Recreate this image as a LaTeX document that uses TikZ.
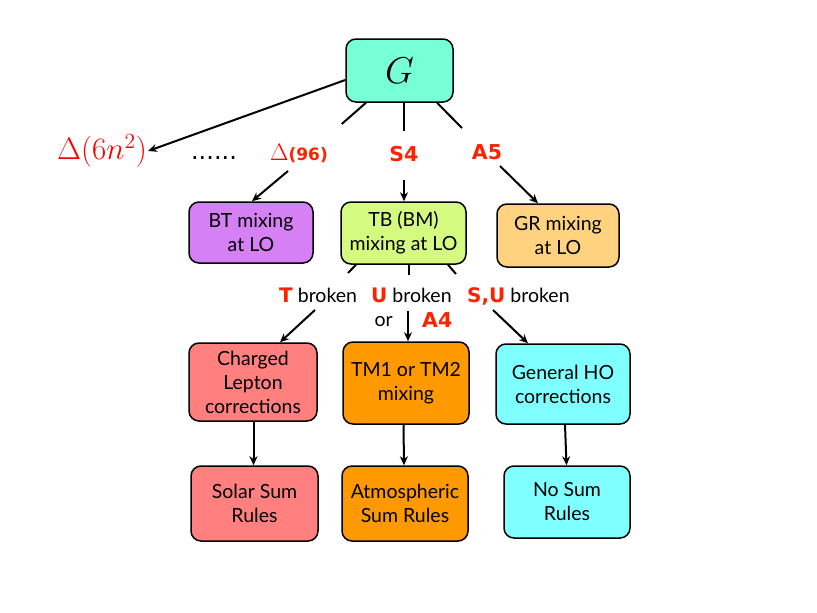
\documentclass[tikz,border=0pt]{standalone}
\usepackage{graphicx}
\usepackage{fontspec}
\setmainfont{Lato}
\newfontfamily\lblfont{DejaVu Sans}
\newfontfamily\dotfont{DejaVu Sans}
\usetikzlibrary{arrows.meta}
\definecolor{cG}{HTML}{77FFD6}
\definecolor{cBT}{HTML}{D680F5}
\definecolor{cTB}{HTML}{D5FA80}
\definecolor{cGR}{HTML}{FFD27F}
\definecolor{cCL}{HTML}{FF807F}
\definecolor{cTM}{HTML}{FF9900}
\definecolor{cHO}{HTML}{7FFFFF}
\definecolor{lred}{HTML}{FF2200}
\newcommand{\redlbl}[1]{\textcolor{lred}{\lblfont\bfseries\fontsize{20}{22}\selectfont #1}}
\tikzset{
  box/.style={draw=black, line width=1.5pt, rounded corners=10pt, align=center,
    font=\fontsize{19.5}{24}\selectfont, inner sep=0pt},
  conn/.style={line width=2pt, -{Stealth[length=9pt,width=8pt]}},
  stub/.style={line width=2pt},
  lbl/.style={text=lred, font=\lblfont\bfseries\fontsize{20.5}{22}\selectfont, inner sep=1pt},
  btxt/.style={font=\fontsize{19.5}{22}\selectfont, inner sep=1pt},
}
\begin{document}
\begin{tikzpicture}[x=1pt,y=-1pt]
\useasboundingbox (0,0) rectangle (817,613);
% boxes
\node[box, fill=cG, minimum width=107, minimum height=63] (G) at (399.5,70.5) {\fontsize{20.74}{24}\selectfont\scalebox{1.8}{$G$}};
\node[box, fill=cBT, minimum width=124, minimum height=61] (BT) at (251,232.5) {BT mixing\\at LO};
\node[box, fill=cTB, minimum width=125, minimum height=62] (TB) at (403.5,233) {TB (BM)\\mixing at LO};
\node[box, fill=cGR, minimum width=122, minimum height=63] (GR) at (558,235.5) {GR mixing\\at LO};
\node[box, fill=cCL, minimum width=128, minimum height=78] (CL) at (253,382) {Charged\\Lepton\\corrections};
\node[box, fill=cTM, minimum width=126, minimum height=82] (TM) at (406,383) {TM1 or TM2\\mixing};
\node[box, fill=cHO, minimum width=134, minimum height=80] (HO) at (563,384) {General HO\\corrections};
\node[box, fill=cCL, minimum width=127, minimum height=75] (SS) at (254.5,503.5) {Solar Sum\\Rules};
\node[box, fill=cTM, minimum width=126, minimum height=75] (AS) at (405,503.5) {Atmospheric\\Sum Rules};
\node[box, fill=cHO, minimum width=126, minimum height=72] (NS) at (567,502) {No Sum\\Rules};
% level-1 labels
\node[text=red, inner sep=1pt, font=\fontsize{20.74}{24}\selectfont] (D6) at (102,151) {\scalebox{1.5}{$\Delta(6n^2)$}};
\node[inner sep=1pt, font=\dotfont\fontsize{24}{26}\selectfont, anchor=base] (dots) at (214,159) {......};
\node[inner sep=1pt, anchor=base] (D96) at (299,160) {\textcolor{red}{\fontsize{20.74}{24}\selectfont\scalebox{1.15}{$\Delta$}}\textcolor{lred}{\lblfont\bfseries\fontsize{17}{18}\selectfont(96)}};
\node[lbl] (S4) at (404,154) {S4};
\node[lbl] (A5) at (487,152) {A5};
% level-2 labels
\node[btxt, anchor=base west] (Tb) at (278,302) {\redlbl{T} broken};
\node[btxt, anchor=base west] (Ub) at (370,302) {\redlbl{U} broken};
\node[btxt, anchor=base west] (SUb) at (466,302) {\redlbl{S,U} broken};
\node[btxt, anchor=base east] (or) at (394,326) {or};
\node[lbl, anchor=base west] (A4) at (421,327) {A4};
% stub coordinates
\coordinate (g1) at (341.7,124);
\coordinate (g2) at (404,131);
\coordinate (g3) at (462,128);
\coordinate (t1) at (348,273);
\coordinate (t2) at (409,275);
\coordinate (t3) at (456,274);
\coordinate (a1) at (288,171);
\coordinate (a2) at (404,180);
\coordinate (a3) at (500,166);
\coordinate (b1) at (315,310);
\coordinate (b2) at (408,311);
\coordinate (b3) at (493,310);
% connectors
\draw[conn] (G.west |- 0,80) -- (D6.east);
\draw[stub] (G.south -| 366,0) -- (g1);
\draw[stub] (G.south -| 404,0) -- (g2);
\draw[stub] (G.south -| 437,0) -- (g3);
\draw[conn] (a1) -- (BT.north -| 252,0);
\draw[conn] (a2) -- (TB.north -| 404,0);
\draw[conn] (a3) -- (GR.north -| 538,0);
\draw[stub] (TB.south -| 356,0) -- (t1);
\draw[stub] (TB.south -| 409,0) -- (t2);
\draw[stub] (TB.south -| 448,0) -- (t3);
\draw[conn] (b1) -- (CL.north -| 280,0);
\draw[conn] (b2) -- (TM.north -| 408,0);
\draw[conn] (b3) -- (HO.north -| 528,0);
\draw[conn] (CL.south -| 253.5,0) -- (SS.north -| 253.5,0);
\draw[conn] (TM.south -| 403.5,0) -- (AS.north -| 404,0);
\draw[conn] (HO.south -| 565,0) -- (NS.north -| 566.5,0);
\end{tikzpicture}
\end{document}
